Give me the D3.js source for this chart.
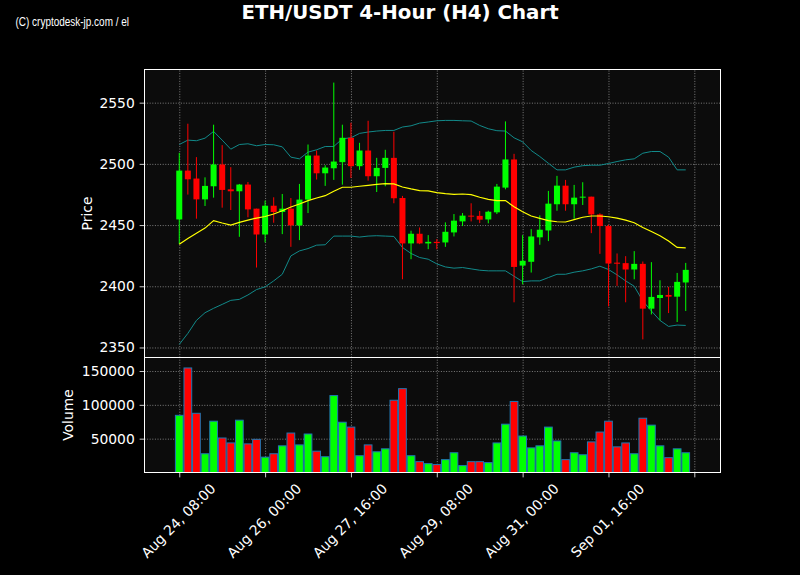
<!DOCTYPE html>
<html><head><meta charset="utf-8">
<script src="https://cdn.jsdelivr.net/npm/d3@7"></script>
<style>html,body{margin:0;padding:0;background:#000;} svg{display:block}</style>
</head><body><svg id="c" width="800" height="575"></svg>
<script>
// ---- data (4-hour candles, index 0 = Aug 24 08:00) ----
const opens = [2454.6,2494.5,2488.0,2471.0,2481.7,2499.5,2479.2,2477.6,2483.1,2463.4,
2442.3,2465.8,2460.7,2463.4,2449.7,2470.8,2506.8,2492.3,2496.4,2501.4,
2521.3,2498.1,2510.9,2489.9,2496.7,2504.9,2472.1,2435.0,2442.9,2435.0,
2436.3,2435.8,2444.0,2453.0,2457.7,2457.5,2454.6,2460.4,2480.6,2503.6,
2416.9,2420.0,2440.0,2445.6,2467.0,2482.2,2467.0,2472.4,2473.2,2458.7,
2449.2,2419.3,2418.9,2413.7,2418.3,2381.7,2390.4,2392.9,2391.5,2403.1];
const highs = [2509.0,2532.8,2505.5,2489.0,2532.0,2515.3,2497.3,2483.6,2485.2,2463.4,
2470.0,2472.7,2475.4,2472.1,2483.6,2515.8,2510.9,2498.9,2566.4,2532.0,
2533.6,2517.2,2535.2,2504.9,2511.5,2526.2,2473.8,2445.4,2448.0,2441.8,
2438.5,2452.2,2459.0,2459.8,2467.8,2461.5,2461.7,2483.6,2534.7,2508.2,
2441.8,2446.7,2457.9,2477.9,2490.2,2486.9,2482.8,2485.0,2473.2,2459.6,
2450.3,2426.8,2424.6,2428.7,2420.2,2419.7,2404.9,2399.5,2410.9,2419.1];
const lows = [2434.4,2474.9,2455.2,2465.6,2472.4,2464.2,2462.3,2440.4,2456.3,2415.3,
2435.8,2451.9,2442.6,2432.2,2437.7,2459.8,2487.2,2482.0,2486.9,2483.0,
2488.5,2495.1,2486.3,2477.0,2481.7,2467.8,2405.7,2422.1,2434.4,2430.3,
2430.3,2432.2,2440.7,2449.2,2453.0,2451.6,2451.4,2459.0,2479.2,2386.9,
2401.6,2411.2,2433.9,2436.9,2461.7,2461.7,2455.2,2466.4,2443.4,2426.5,
2383.6,2400.3,2386.9,2405.7,2356.6,2377.0,2372.1,2378.1,2370.8,2379.8];
const closes = [2494.5,2487.4,2471.0,2482.0,2499.5,2478.7,2477.6,2483.1,2462.8,2442.3,
2465.8,2460.7,2463.4,2449.7,2470.8,2506.8,2492.3,2497.0,2501.9,2521.3,
2498.1,2510.9,2489.9,2496.7,2504.9,2471.9,2435.0,2442.9,2435.0,2436.3,
2435.3,2444.5,2453.6,2457.7,2457.0,2454.4,2460.9,2481.4,2503.6,2415.8,
2420.8,2440.7,2446.2,2467.5,2482.2,2467.0,2472.4,2473.2,2458.7,2449.2,
2418.6,2418.4,2413.7,2418.3,2381.7,2391.3,2392.9,2391.5,2403.6,2413.4];
const volumes = [84500,154500,87500,27700,75800,51000,43700,77300,42300,49000,
22700,27700,39400,58300,40800,56900,31500,23300,113700,74300,
67100,24800,40800,30600,35000,106800,123900,24800,16000,13100,
11700,19000,29200,10200,16000,16000,14600,43700,71400,105000,
53900,36400,39400,67100,46600,19000,29200,26200,45200,59800,
75800,37900,43700,27700,80200,70000,39400,21900,35000,29200];
const maLine = [2434.4,2439.0,2443.4,2447.5,2453.6,2451.7,2450.0,2452.2,2454.0,2455.7,
2457.0,2459.0,2461.7,2464.8,2467.2,2470.0,2472.1,2474.0,2477.6,2480.9,
2480.9,2481.7,2482.5,2483.3,2483.9,2483.6,2481.1,2479.5,2478.1,2477.9,
2476.5,2475.7,2475.1,2475.4,2474.9,2472.7,2471.0,2470.0,2470.0,2465.0,
2460.9,2457.4,2455.5,2453.6,2452.7,2452.5,2454.4,2456.4,2457.4,2457.4,
2456.8,2455.7,2454.0,2451.9,2448.0,2444.8,2441.3,2436.9,2431.7,2431.4];
const upperBand = [2515.8,2519.4,2518.9,2521.0,2526.5,2519.4,2512.0,2515.8,2516.4,2514.8,
2515.8,2515.6,2513.9,2505.5,2504.1,2509.6,2511.5,2514.2,2514.2,2520.5,
2521.3,2524.9,2526.0,2526.8,2527.3,2527.3,2530.1,2531.1,2533.3,2534.2,
2535.2,2535.5,2535.5,2535.2,2535.0,2531.4,2528.7,2527.1,2526.8,2521.3,
2518.0,2510.9,2506.0,2500.5,2495.1,2495.1,2497.3,2498.5,2498.9,2498.9,
2500.3,2501.9,2503.3,2504.1,2508.7,2510.1,2510.1,2505.5,2495.1,2495.1];
const lowerBand = [2352.5,2361.5,2372.1,2378.4,2382.0,2385.2,2388.5,2389.3,2392.9,2397.3,
2399.5,2404.4,2409.8,2424.8,2428.9,2430.8,2433.6,2433.9,2441.0,2441.0,
2441.0,2440.2,2441.0,2441.3,2441.0,2440.7,2431.7,2426.8,2423.5,2422.1,
2418.3,2415.8,2414.8,2415.3,2414.2,2413.1,2412.6,2412.6,2412.6,2408.2,
2403.8,2404.4,2404.4,2407.1,2409.8,2409.8,2411.5,2412.6,2414.2,2416.4,
2413.7,2409.3,2404.4,2400.0,2388.0,2379.8,2372.1,2367.2,2368.3,2368.0];
const tickIdx = [0,10,20,30,40,50,60];
const tickLabels = ["Aug 24, 08:00","Aug 26, 00:00","Aug 27, 16:00","Aug 29, 08:00","Aug 31, 00:00","Sep 01, 16:00",""];
const priceTicks = [2350,2400,2450,2500,2550];
const volTicks = [50000,100000,150000];

// ---- drawing ----
const svg = d3.select('#c');
const FONT = 'DejaVu Sans, sans-serif', FS = 13.89;
const L=144.5, R=720.5, PT=69.5, PB=357.5, VB=472.5;
const GREEN='#00ff00', RED='#ff0000', TEAL='#128a8a';
svg.append('rect').attr('width',800).attr('height',575).attr('fill','#000');

const idx = d3.range(opens.length);
const x = d3.scaleLinear().domain([-4.05,63.05]).range([L,R]);
const lo = d3.min([...lows,...lowerBand]), hi = d3.max([...highs,...upperBand]);
const pad = (hi-lo)*0.05;
const y = d3.scaleLinear().domain([lo-pad,hi+pad]).range([PB,PT]);
const yv = d3.scaleLinear().domain([0,d3.max(volumes)*1.1]).range([VB,PB]);
const step = x(1)-x(0);

// panel backgrounds
svg.append('rect').attr('x',L).attr('y',PT).attr('width',R-L).attr('height',PB-PT).attr('fill','#0c0c0c');
svg.append('rect').attr('x',L).attr('y',PB).attr('width',R-L).attr('height',VB-PB).attr('fill','#0c0c0c');

const defs = svg.append('defs');
defs.append('clipPath').attr('id','cp').append('rect').attr('x',L).attr('y',PT).attr('width',R-L).attr('height',PB-PT);
defs.append('clipPath').attr('id','cv').append('rect').attr('x',L).attr('y',PB).attr('width',R-L).attr('height',VB-PB);

// grids
function gridStyle(g){
  g.select('.domain').remove();
  g.selectAll('.tick line').attr('stroke','#9a9a9a').attr('stroke-width',0.8).attr('stroke-dasharray','1,1.6');
  g.selectAll('.tick text').remove();
}
svg.append('g').attr('transform',`translate(${L},0)`)
  .call(d3.axisLeft(y).tickValues(priceTicks).tickSize(-(R-L)).tickFormat('')).call(gridStyle);
svg.append('g').attr('transform',`translate(${L},0)`)
  .call(d3.axisLeft(yv).tickValues(volTicks).tickSize(-(R-L)).tickFormat('')).call(gridStyle);
svg.append('g').attr('transform',`translate(0,${PB})`)
  .call(d3.axisTop(x).tickValues(tickIdx).tickSize(PB-PT).tickFormat('')).call(gridStyle);
svg.append('g').attr('transform',`translate(0,${VB})`)
  .call(d3.axisTop(x).tickValues(tickIdx).tickSize(VB-PB).tickFormat('')).call(gridStyle);

// price panel
const gp = svg.append('g').attr('clip-path','url(#cp)');
const line = arr => d3.line().x((d,i)=>x(i)).y(d=>y(d))(arr);
gp.append('path').attr('d',line(upperBand)).attr('fill','none').attr('stroke',TEAL).attr('stroke-width',1);
gp.append('path').attr('d',line(lowerBand)).attr('fill','none').attr('stroke',TEAL).attr('stroke-width',1);
const col = i => closes[i]>=opens[i]?GREEN:RED;
gp.selectAll('line.wick').data(idx).join('line').attr('class','wick')
  .attr('x1',i=>x(i)).attr('x2',i=>x(i)).attr('y1',i=>y(highs[i])).attr('y2',i=>y(lows[i]))
  .attr('stroke',col).attr('stroke-width',1);
const bw = step*0.7;
gp.selectAll('rect.body').data(idx).join('rect').attr('class','body')
  .attr('x',i=>x(i)-bw/2).attr('width',bw)
  .attr('y',i=>y(Math.max(opens[i],closes[i])))
  .attr('height',i=>Math.max(1,Math.abs(y(opens[i])-y(closes[i]))))
  .attr('fill',col);
gp.append('path').attr('d',line(maLine)).attr('fill','none').attr('stroke','#ffff00').attr('stroke-width',1.2);

// volume panel
const gv = svg.append('g').attr('clip-path','url(#cv)');
const vw = step*0.9;
gv.selectAll('rect.vol').data(idx).join('rect').attr('class','vol')
  .attr('x',i=>x(i)-vw/2).attr('width',vw)
  .attr('y',i=>yv(volumes[i])).attr('height',i=>VB-yv(volumes[i]))
  .attr('fill',col).attr('stroke','#1f77b4').attr('stroke-width',1);

// axes
function axStyle(g){
  g.select('.domain').remove();
  g.selectAll('.tick line').attr('stroke','#fff').attr('stroke-width',0.8);
  g.selectAll('.tick text').attr('fill','#fff').style('font-family',FONT).style('font-size',FS+'px');
}
svg.append('g').attr('transform',`translate(${L},0)`)
  .call(d3.axisLeft(y).tickValues(priceTicks).tickSize(4.86).tickPadding(4.86).tickFormat(d3.format('d'))).call(axStyle);
svg.append('g').attr('transform',`translate(${L},0)`)
  .call(d3.axisLeft(yv).tickValues(volTicks).tickSize(4.86).tickPadding(4.86).tickFormat(d3.format('d'))).call(axStyle);
svg.append('g').attr('transform',`translate(0,${VB})`)
  .call(d3.axisBottom(x).tickValues(tickIdx).tickSize(4.86).tickFormat('')).call(axStyle);
svg.append('g').selectAll('text').data(tickIdx).join('text')
  .attr('transform',d=>`translate(${x(d)-1},520.5) rotate(-45)`)
  .attr('text-anchor','middle').attr('dominant-baseline','central')
  .attr('fill','#fff').style('font-family',FONT).style('font-size',FS+'px')
  .text((d,i)=>tickLabels[i]);

// spines
svg.append('rect').attr('x',L).attr('y',PT).attr('width',R-L).attr('height',PB-PT).attr('fill','none').attr('stroke','#fff').attr('stroke-width',1);
svg.append('rect').attr('x',L).attr('y',PB).attr('width',R-L).attr('height',VB-PB).attr('fill','none').attr('stroke','#fff').attr('stroke-width',1);

// labels
svg.append('text').attr('transform',`translate(87,${(PT+PB)/2}) rotate(-90)`).attr('text-anchor','middle')
  .attr('dominant-baseline','central').attr('fill','#fff').style('font-family',FONT).style('font-size',FS+'px').text('Price');
svg.append('text').attr('transform',`translate(68,${(PB+VB)/2}) rotate(-90)`).attr('text-anchor','middle')
  .attr('dominant-baseline','central').attr('fill','#fff').style('font-family',FONT).style('font-size',FS+'px').text('Volume');
svg.append('text').attr('x',400).attr('y',18.6).attr('text-anchor','middle').attr('fill','#fff')
  .style('font-family',FONT).style('font-weight','bold').style('font-size','19.8px').text('ETH/USDT 4-Hour (H4) Chart');
svg.append('text').attr('x',15.5).attr('y',25.5).attr('fill','#fff')
  .attr('textLength',113.5).attr('lengthAdjust','spacingAndGlyphs')
  .style('font-family','Liberation Sans Narrow, Liberation Sans, Arial, sans-serif').style('font-size','12px')
  .text('(C) cryptodesk-jp.com / el');
</script></body></html>
